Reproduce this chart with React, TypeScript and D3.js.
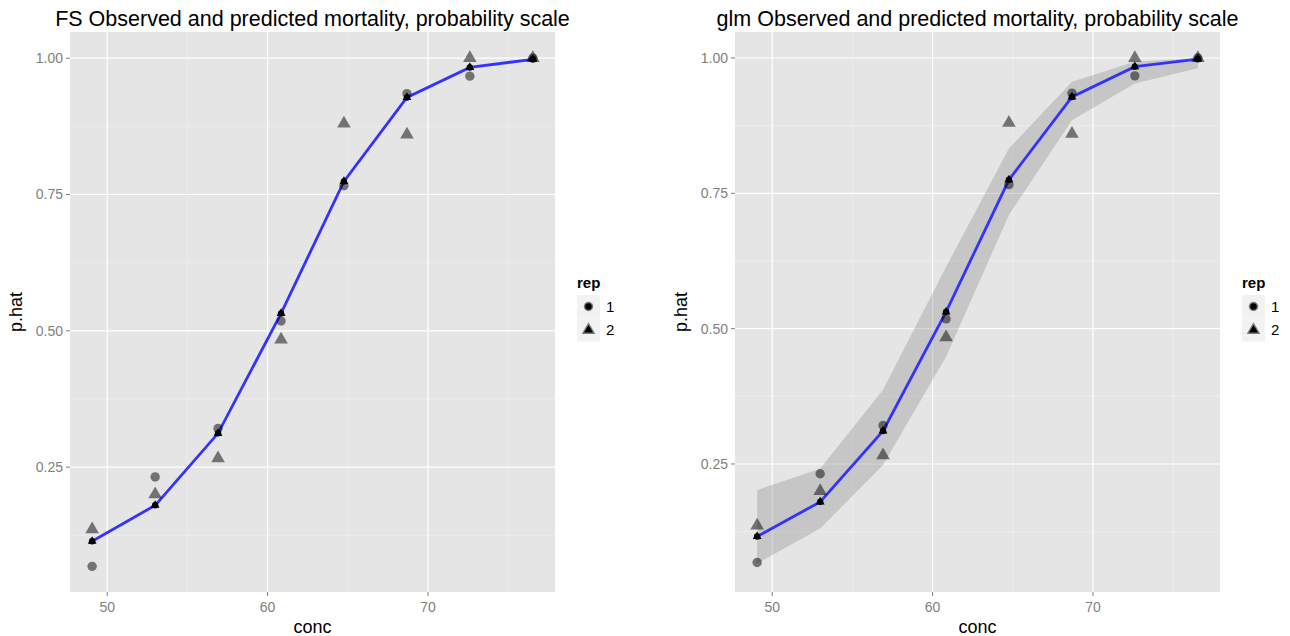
import * as d3 from "d3";

// beetle mortality data
const conc = [49.06, 52.99, 56.91, 60.84, 64.76, 68.69, 72.61, 76.54];
const obsRep1 = [0.068, 0.232, 0.321, 0.518, 0.766, 0.935, 0.967, 1.0];
const obsRep2 = [0.136, 0.2, 0.266, 0.484, 0.88, 0.86, 1.0, 1.0];
const fsPred = [0.114, 0.18, 0.312, 0.532, 0.774, 0.928, 0.983, 0.998];
const glmPred = [0.116, 0.18, 0.311, 0.531, 0.775, 0.928, 0.984, 0.998];
const glmLower = [0.066, 0.131, 0.248, 0.448, 0.71, 0.885, 0.953, 0.981];
const glmUpper = [0.202, 0.241, 0.387, 0.614, 0.833, 0.956, 0.993, 1.0];

const xTicks = [50, 60, 70];
const xMinor = [55, 65, 75];
const yTicks = [0.25, 0.5, 0.75, 1.0];
const yMinor = [0.125, 0.375, 0.625, 0.875];
const repLevels = ["1", "2"];

const W = 1290;
const H = 636;
const font = "'Liberation Sans', Arial, Helvetica, sans-serif";

const triPath = (s: number) => d3.symbol(d3.symbolTriangle, s)() as string;

function Panel(props: {
  ox: number;
  title: string;
  pred: number[];
  lower?: number[];
  upper?: number[];
  yDomain: [number, number];
}) {
  const { ox, title, pred, lower, upper, yDomain } = props;
  const left = ox, right = ox + 485, top = 32, bottom = 592;
  const x = d3.scaleLinear().domain([47.68, 77.92]).range([left, right]);
  const y = d3.scaleLinear().domain(yDomain).range([bottom, top]);

  const line = d3
    .line<number>()
    .x((_, i) => x(conc[i]))
    .y((d) => y(d));

  const band =
    lower && upper
      ? d3
          .area<number>()
          .x((_, i) => x(conc[i]))
          .y0((d) => y(d))
          .y1((_, i) => y(upper[i]))(lower)
      : null;

  const grey = "#7f7f7f";
  const obsTri = triPath(80);
  const predTri = triPath(34);
  const legX = right + 22;

  return (
    <g>
      <rect x={left} y={top} width={right - left} height={bottom - top} fill="#e5e5e5" />
      {yMinor.map((t) => (
        <line key={"ym" + t} x1={left} x2={right} y1={y(t)} y2={y(t)} stroke="#f2f2f2" strokeWidth={0.6} />
      ))}
      {xMinor.map((t) => (
        <line key={"xm" + t} x1={x(t)} x2={x(t)} y1={top} y2={bottom} stroke="#f2f2f2" strokeWidth={0.6} />
      ))}
      {yTicks.map((t) => (
        <line key={"yM" + t} x1={left} x2={right} y1={y(t)} y2={y(t)} stroke="#ffffff" strokeWidth={1.2} />
      ))}
      {xTicks.map((t) => (
        <line key={"xM" + t} x1={x(t)} x2={x(t)} y1={top} y2={bottom} stroke="#ffffff" strokeWidth={1.2} />
      ))}

      {band && <path d={band} fill="#999999" fillOpacity={0.4} />}

      <path d={line(pred) as string} fill="none" stroke="#3333ff" strokeWidth={2.8} />

      {/* observed */}
      {obsRep1.map((v, i) => (
        <circle key={"o1" + i} cx={x(conc[i])} cy={y(v)} r={4.7} fill="#000" fillOpacity={0.5} />
      ))}
      {obsRep2.map((v, i) => (
        <path key={"o2" + i} d={obsTri} transform={`translate(${x(conc[i])},${y(v)})`} fill="#000" fillOpacity={0.5} />
      ))}
      {/* predicted, same for both reps */}
      {pred.map((v, i) => (
        <g key={"p" + i} transform={`translate(${x(conc[i])},${y(v)})`}>
          <circle r={3.2} fill="#000" />
          <path d={predTri} fill="#000" />
        </g>
      ))}

      {/* axes */}
      {yTicks.map((t) => (
        <g key={"yt" + t}>
          <line x1={left - 4} x2={left} y1={y(t)} y2={y(t)} stroke={grey} strokeWidth={1} />
          <text x={left - 7} y={y(t)} dy="0.35em" textAnchor="end" fontSize={14} fill={grey} fontFamily={font}>
            {t.toFixed(2)}
          </text>
        </g>
      ))}
      {xTicks.map((t) => (
        <g key={"xt" + t}>
          <line x1={x(t)} x2={x(t)} y1={bottom} y2={bottom + 4} stroke={grey} strokeWidth={1} />
          <text x={x(t)} y={bottom + 20} textAnchor="middle" fontSize={14} fill={grey} fontFamily={font}>
            {t}
          </text>
        </g>
      ))}
      <text x={(left + right) / 2} y={633} textAnchor="middle" fontSize={18} fontFamily={font}>
        conc
      </text>
      <text
        transform={`translate(${ox - 48},${(top + bottom) / 2}) rotate(-90)`}
        textAnchor="middle"
        fontSize={18}
        fontFamily={font}
      >
        p.hat
      </text>
      <text x={(left + right) / 2} y={26} textAnchor="middle" fontSize={21.5} fontFamily={font}>
        {title}
      </text>

      {/* legend */}
      <text x={legX} y={288} fontSize={15} fontWeight="bold" fontFamily={font}>
        rep
      </text>
      {repLevels.map((lab, i) => {
        const ky = 295 + i * 23.5;
        return (
          <g key={"lg" + lab}>
            <rect x={legX} y={ky} width={23} height={23} fill="#f2f2f2" />
            <g transform={`translate(${legX + 11.5},${ky + 11.5})`}>
              {i === 0 ? (
                <>
                  <circle r={4.7} fill="#000" fillOpacity={0.5} />
                  <circle r={3.2} fill="#000" />
                </>
              ) : (
                <>
                  <path d={obsTri} fill="#000" fillOpacity={0.5} />
                  <path d={predTri} fill="#000" />
                </>
              )}
            </g>
            <text x={legX + 29} y={ky + 11.5} dy="0.35em" fontSize={15} fontFamily={font}>
              {lab}
            </text>
          </g>
        );
      })}
    </g>
  );
}

export default function App() {
  return (
    <svg width={W} height={H} style={{ display: "block", position: "absolute", left: 0, top: 0 }}>
      <rect width={W} height={H} fill="#ffffff" />
      <Panel
        ox={70}
        title="FS Observed and predicted mortality, probability scale"
        pred={fsPred}
        yDomain={[0.021, 1.048]}
      />
      <Panel
        ox={735}
        title="glm Observed and predicted mortality, probability scale"
        pred={glmPred}
        lower={glmLower}
        upper={glmUpper}
        yDomain={[0.0135, 1.048]}
      />
    </svg>
  );
}
